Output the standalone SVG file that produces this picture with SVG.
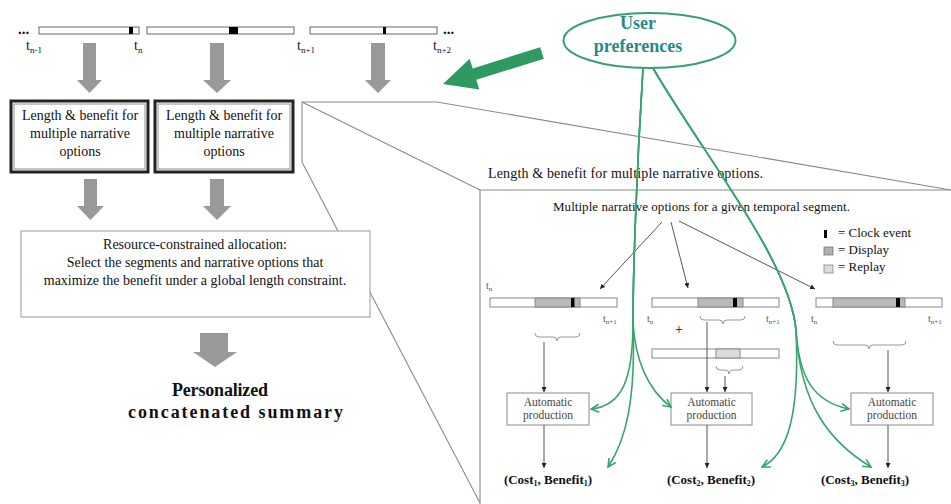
<svg xmlns="http://www.w3.org/2000/svg" width="951" height="504" viewBox="0 0 951 504">
<defs>
<style>
text{font-family:"Liberation Serif","Times New Roman",serif;fill:#111}
.bar{fill:#fff;stroke:#666;stroke-width:1}
.rbar{fill:#fff;stroke:#888;stroke-width:1}
.disp{fill:#b9b9b9;stroke:#888;stroke-width:1}
.repl{fill:#dcdcdc;stroke:#888;stroke-width:1}
.garrow{fill:#999}
.proj{fill:none;stroke:#8a8a8a;stroke-width:1.1}
.brace{fill:none;stroke:#999;stroke-width:1}
.blk{fill:none;stroke:#444;stroke-width:0.9;marker-end:url(#ah)}
.gv{fill:none;stroke:#3aa46e;stroke-width:1.6;marker-end:url(#gh)}
.ap{fill:#fff;stroke:#8a8a8a;stroke-width:1}
.apt{font-size:11.5px;fill:#444;text-anchor:middle}
.tl{font-size:14px}
.ts{font-size:10px;fill:#555}
.cost{font-size:13px;font-weight:bold;text-anchor:middle}
</style>
<marker id="ah" viewBox="0 0 6 6" refX="6" refY="3" markerWidth="5" markerHeight="5" markerUnits="userSpaceOnUse" orient="auto"><path d="M0,0 L6,3 L0,6 z" fill="#222"/></marker>
<marker id="gh" viewBox="0 0 10 10" refX="9" refY="5" markerWidth="10" markerHeight="10" markerUnits="userSpaceOnUse" orient="auto"><path d="M1,1 L9,5 L1,9" fill="none" stroke="#3aa46e" stroke-width="1.6"/></marker>
</defs>

<!-- projection outline -->
<g id="projection">
<polyline class="proj" points="302,162 302,102 437,102 951,190"/>
<line class="proj" x1="302" y1="102" x2="480" y2="190"/>
<line class="proj" x1="302" y1="162" x2="480" y2="503"/>
<polyline class="proj" points="951,190 480,190 480,504"/>
</g>

<!-- top timeline -->
<g id="timeline">
<text x="18" y="34" style="font-size:15px;font-weight:bold">...</text>
<rect class="bar" x="39" y="27" width="100" height="7"/>
<rect x="129" y="27" width="4" height="7" fill="#000"/>
<rect class="bar" x="147" y="27" width="147" height="7"/>
<rect x="229" y="27" width="9" height="7" fill="#000"/>
<rect class="bar" x="310" y="27" width="127" height="7"/>
<rect x="383" y="27" width="3" height="7" fill="#000"/>
<text x="443" y="34" style="font-size:15px;font-weight:bold">...</text>
<text class="tl" x="26" y="50">t<tspan font-size="9" dy="3">n-1</tspan></text>
<text class="tl" x="134" y="50">t<tspan font-size="9" dy="3">n</tspan></text>
<text class="tl" x="297" y="50">t<tspan font-size="9" dy="3">n+1</tspan></text>
<text class="tl" x="433" y="50">t<tspan font-size="9" dy="3">n+2</tspan></text>
</g>

<!-- gray arrows -->
<g id="gray-arrows">
<polygon class="garrow" points="83,43 96,43 96,80 102,80 89.5,93 77,80 83,80"/>
<polygon class="garrow" points="210,43 224,43 224,80 231,80 217,93 203,80 210,80"/>
<polygon class="garrow" points="371,43 385,43 385,80 391,80 378,93 365,80 371,80"/>
<polygon class="garrow" points="84,179 97,179 97,206 104,206 90.5,220 77,206 84,206"/>
<polygon class="garrow" points="210,179 224,179 224,206 231,206 217,220 203,206 210,206"/>
<polygon class="garrow" points="200,333 228,333 228,352 237,352 215,367 193,352 200,352"/>
</g>

<g id="box1">
<rect x="11" y="101" width="137" height="71" fill="#fff" stroke="#222" stroke-width="3"/>
<rect x="14" y="104" width="131" height="65" fill="none" stroke="#777" stroke-width="0.8"/>
<text x="80" y="120" style="font-size:14px;text-anchor:middle">Length &amp; benefit for</text>
<text x="80" y="138" style="font-size:14px;text-anchor:middle">multiple narrative</text>
<text x="80" y="156" style="font-size:14px;text-anchor:middle">options</text>
</g>
<g id="box2">
<rect x="155" y="101" width="138" height="71" fill="#fff" stroke="#222" stroke-width="3"/>
<rect x="158" y="104" width="132" height="65" fill="none" stroke="#777" stroke-width="0.8"/>
<text x="224" y="120" style="font-size:14px;text-anchor:middle">Length &amp; benefit for</text>
<text x="224" y="138" style="font-size:14px;text-anchor:middle">multiple narrative</text>
<text x="224" y="156" style="font-size:14px;text-anchor:middle">options</text>
</g>

<g id="allocation">
<rect x="21" y="231" width="349" height="86" fill="#fff" stroke="#999" stroke-width="1"/>
<text x="195" y="249" style="font-size:14px;text-anchor:middle">Resource-constrained allocation:</text>
<text x="195" y="267" style="font-size:14px;text-anchor:middle">Select the segments and narrative options that</text>
<text x="195" y="285" style="font-size:14px;text-anchor:middle">maximize the benefit under a global length constraint.</text>
</g>

<g id="summary">
<text x="172" y="396" textLength="96" style="font-size:18px;font-weight:bold">Personalized</text>
<text x="128" y="418" textLength="215" style="font-size:18px;font-weight:bold">concatenated summary</text>
</g>

<g id="user-preferences">
<ellipse cx="649.5" cy="40.5" rx="86" ry="27.5" fill="#fff" stroke="#3a9e6e" stroke-width="2"/>
<text x="638" y="29" style="font-size:18px;font-weight:bold;fill:#1f8c8a;text-anchor:middle">User</text>
<text x="638" y="52" style="font-size:18px;font-weight:bold;fill:#1f8c8a;text-anchor:middle">preferences</text>
</g>

<g id="big-arrow">
<polygon points="443,84 479.3,89.4 476.3,79.8 543.8,58.7 540.2,47.3 472.7,68.4 469.7,58.8" fill="#2e9a62"/>
</g>

<!-- right panel -->
<g id="panel-heading">
<text x="488" y="178" textLength="275" style="font-size:14px">Length &amp; benefit for multiple narrative options.</text>
<text x="553" y="211" textLength="297" style="font-size:13px">Multiple narrative options for a given temporal segment.</text>
</g>

<g id="legend">
<rect x="824" y="230" width="3" height="8" fill="#000"/>
<text x="838" y="237" style="font-size:13px">= Clock event</text>
<rect x="824" y="247" width="9" height="8" fill="#b0b0b0" stroke="#777" stroke-width="0.8"/>
<text x="838" y="254" style="font-size:13px">= Display</text>
<rect x="824" y="265" width="9" height="8" fill="#dcdcdc" stroke="#888" stroke-width="0.8"/>
<text x="838" y="271" style="font-size:13px">= Replay</text>
</g>

<g id="option1">
<text class="ts" x="486" y="289">t<tspan font-size="7" dy="2">n</tspan></text>
<rect class="rbar" x="490" y="298" width="127" height="9"/>
<rect class="disp" x="535" y="298" width="45" height="9"/>
<rect x="571" y="298" width="3.5" height="9" fill="#000"/>
<text class="ts" x="603" y="322">t<tspan font-size="7" dy="2">n+1</tspan></text>
<path class="brace" d="M535,333 Q535,337 539,337 L553,337 Q557,337 557,341 Q557,337 561,337 L576,337 Q580,337 580,333"/>
</g>

<g id="option2">
<rect class="rbar" x="652" y="298" width="127" height="9"/>
<rect class="disp" x="698" y="298" width="45" height="9"/>
<rect x="733" y="298" width="4" height="9" fill="#000"/>
<text class="ts" x="647" y="322">t<tspan font-size="7" dy="2">n</tspan></text>
<text class="ts" x="766" y="322">t<tspan font-size="7" dy="2">n+1</tspan></text>
<text x="679" y="334" style="font-size:14px;text-anchor:middle">+</text>
<path class="brace" d="M700,316 Q700,320 704,320 L719,320 Q723,320 723,324 Q723,320 727,320 L741,320 Q745,320 745,316"/>
<rect class="rbar" x="652" y="349" width="127" height="9"/>
<rect class="repl" x="716" y="349" width="24" height="9"/>
<path class="brace" d="M716,366 Q716,370 720,370 L725,370 Q729,370 729,374 Q729,370 733,370 L739,370 Q743,370 743,366"/>
</g>

<g id="option3">
<rect class="rbar" x="816" y="298" width="126" height="9"/>
<rect class="disp" x="833" y="298" width="72" height="9"/>
<rect x="896" y="298" width="4" height="9" fill="#000"/>
<text class="ts" x="811" y="322">t<tspan font-size="7" dy="2">n</tspan></text>
<text class="ts" x="928" y="322">t<tspan font-size="7" dy="2">n+1</tspan></text>
<path class="brace" d="M833,341 Q833,345 837,345 L865,345 Q869,345 869,349 Q869,345 873,345 L902,345 Q906,345 906,341"/>
</g>

<g id="ap1">
<rect class="ap" x="507" y="393" width="82" height="32"/>
<text class="apt" x="548" y="406">Automatic</text>
<text class="apt" x="548" y="419">production</text>
</g>
<g id="ap2">
<rect class="ap" x="671" y="393" width="81" height="32"/>
<text class="apt" x="711.5" y="406">Automatic</text>
<text class="apt" x="711.5" y="419">production</text>
</g>
<g id="ap3">
<rect class="ap" x="851" y="393" width="82" height="32"/>
<text class="apt" x="892" y="406">Automatic</text>
<text class="apt" x="892" y="419">production</text>
</g>

<g id="cost1"><text class="cost" x="548" y="484">(Cost<tspan font-size="8" dy="2">1</tspan><tspan dy="-2">, Benefit</tspan><tspan font-size="8" dy="2">1</tspan><tspan dy="-2">)</tspan></text></g>
<g id="cost2"><text class="cost" x="711" y="484">(Cost<tspan font-size="8" dy="2">2</tspan><tspan dy="-2">, Benefit</tspan><tspan font-size="8" dy="2">2</tspan><tspan dy="-2">)</tspan></text></g>
<g id="cost3"><text class="cost" x="865" y="484">(Cost<tspan font-size="8" dy="2">3</tspan><tspan dy="-2">, Benefit</tspan><tspan font-size="8" dy="2">3</tspan><tspan dy="-2">)</tspan></text></g>

<g id="connectors">
<line class="blk" x1="662" y1="222" x2="600" y2="289"/>
<line class="blk" x1="671" y1="222" x2="688" y2="288"/>
<line class="blk" x1="679" y1="221" x2="815" y2="289"/>
<line class="blk" x1="544" y1="342" x2="544" y2="392"/>
<line class="blk" x1="707" y1="322" x2="707" y2="392"/>
<line class="blk" x1="725" y1="376" x2="725" y2="392"/>
<line class="blk" x1="888" y1="350" x2="888" y2="392"/>
<line class="blk" x1="544" y1="425" x2="544" y2="468"/>
<line class="blk" x1="707" y1="425" x2="707" y2="468"/>
<line class="blk" x1="888" y1="425" x2="888" y2="468"/>
<path class="gv" d="M643,68 C636,180 633,280 633,322 C633,380 622,406 591,409"/>
<path class="gv" d="M643,68 C636,180 633,280 633,322 C636,400 626,440 608,467"/>
<path class="gv" d="M643,68 C636,180 633,280 633,322 C635,360 648,390 671,407"/>
<path class="gv" d="M653,68 C700,150 790,260 796,330 C800,420 786,455 762,467"/>
<path class="gv" d="M653,68 C700,150 790,260 796,330 C799,380 815,402 849,409"/>
<path class="gv" d="M653,68 C700,150 790,260 796,330 C800,405 830,442 871,467"/>
</g>
</svg>
